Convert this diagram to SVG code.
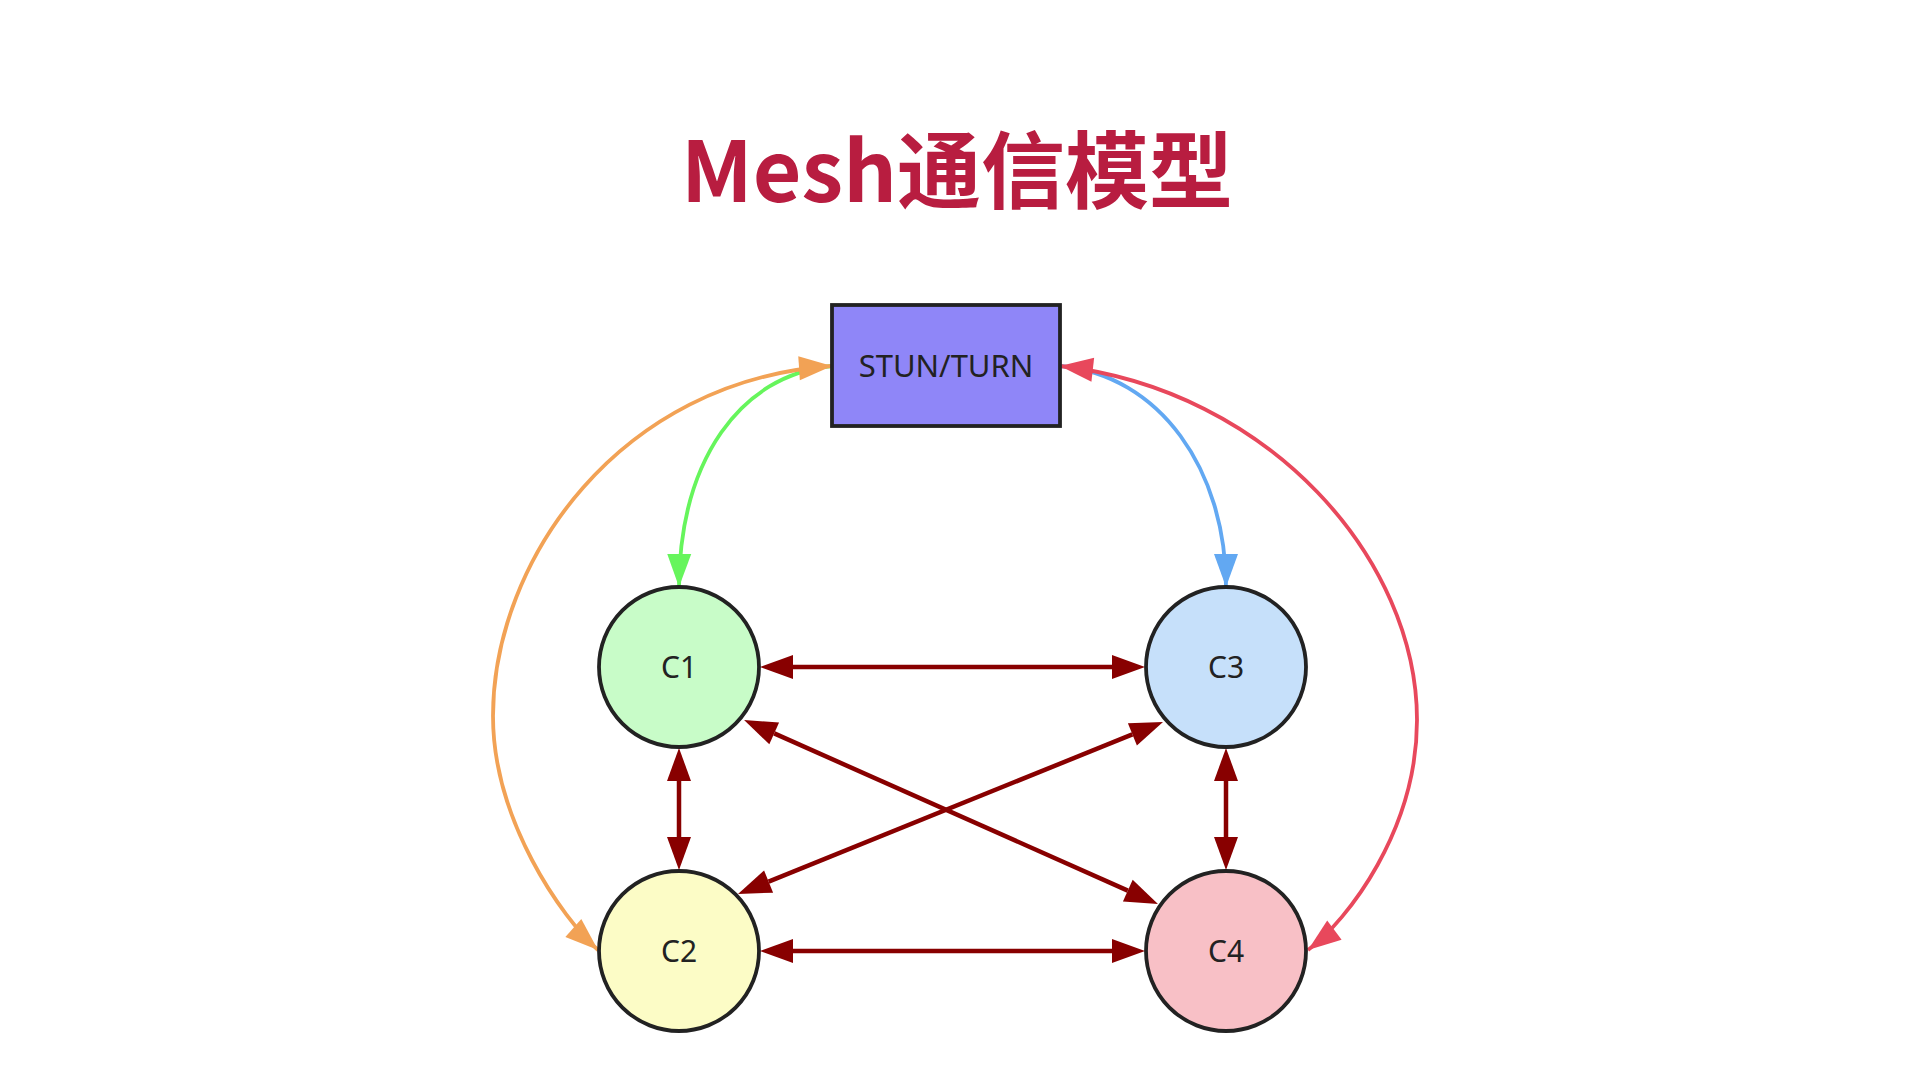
<svg xmlns="http://www.w3.org/2000/svg" width="1920" height="1080" viewBox="0 0 1920 1080">
<style>
.title{font-family:"Noto Sans CJK SC","Noto Sans",sans-serif;font-weight:700;font-size:84px;fill:#b81d40;text-anchor:middle}
.lbl{font-family:"Noto Sans","Open Sans",sans-serif;text-anchor:middle;fill:#222}
.node{stroke:#222;stroke-width:3.8}
.mesh{stroke:#880000;stroke-width:4.5;fill:none}
.cur{stroke-width:3.8;fill:none}
</style>
<defs>
<marker id="mR" markerUnits="userSpaceOnUse" markerWidth="34" markerHeight="26" refX="0" refY="12" orient="auto-start-reverse" overflow="visible"><path d="M0,0 L33,12 L0,24 z" fill="#880000"/></marker>
<marker id="mG" markerUnits="userSpaceOnUse" markerWidth="34" markerHeight="26" refX="33" refY="12" orient="auto-start-reverse" overflow="visible"><path d="M0,0 L33,12 L0,24 z" fill="#66f55c"/></marker>
<marker id="mB" markerUnits="userSpaceOnUse" markerWidth="34" markerHeight="26" refX="33" refY="12" orient="auto-start-reverse" overflow="visible"><path d="M0,0 L33,12 L0,24 z" fill="#62a8f2"/></marker>
<marker id="mO" markerUnits="userSpaceOnUse" markerWidth="34" markerHeight="26" refX="33" refY="12" orient="auto-start-reverse" overflow="visible"><path d="M0,0 L33,12 L0,24 z" fill="#f2a255"/></marker>
<marker id="mE" markerUnits="userSpaceOnUse" markerWidth="34" markerHeight="26" refX="33" refY="12" orient="auto-start-reverse" overflow="visible"><path d="M0,0 L33,12 L0,24 z" fill="#e8485c"/></marker>
</defs>
<rect width="1920" height="1080" fill="#ffffff"/>
<text class="title" x="957" y="202">Mesh通信模型</text>
<g id="connectors">
<path class="cur" stroke="#66f55c" d="M832,366 C740,375 680,460 679,587" marker-end="url(#mG)"/>
<path class="cur" stroke="#62a8f2" d="M1060,366 C1160,375 1226,470 1226,587" marker-end="url(#mB)"/>
<path class="cur" stroke="#f2a255" d="M832,366 C620,380 493,560 493,716 C493,820 562,918 598,950" marker-start="url(#mO)" marker-end="url(#mO)"/>
<path class="cur" stroke="#e8485c" d="M1060,366 C1270,390 1417,560 1417,720 C1417,830 1348,920 1308,950" marker-start="url(#mE)" marker-end="url(#mE)"/>
<line class="mesh" x1="793" y1="667" x2="1112" y2="667" marker-start="url(#mR)" marker-end="url(#mR)"/>
<line class="mesh" x1="793" y1="951" x2="1112" y2="951" marker-start="url(#mR)" marker-end="url(#mR)"/>
<line class="mesh" x1="679" y1="781" x2="679" y2="837" marker-start="url(#mR)" marker-end="url(#mR)"/>
<line class="mesh" x1="1226" y1="781" x2="1226" y2="837" marker-start="url(#mR)" marker-end="url(#mR)"/>
<line class="mesh" x1="774.2" y1="733.4" x2="1127.8" y2="890.6" marker-start="url(#mR)" marker-end="url(#mR)"/>
<line class="mesh" x1="1132.4" y1="734.4" x2="768.6" y2="881.6" marker-start="url(#mR)" marker-end="url(#mR)"/>
</g>
<g id="stun">
<rect class="node" x="832" y="305" width="228" height="121" fill="#8f86f8"/>
<text class="lbl" x="946" y="377" font-size="31" fill="#2a2a48">STUN/TURN</text>
</g>
<g id="c1">
<circle class="node" cx="679" cy="667" r="80" fill="#c8fcc8"/>
<text class="lbl" x="679" y="678" font-size="30">C1</text>
</g>
<g id="c3">
<circle class="node" cx="1226" cy="667" r="80" fill="#c6e0fa"/>
<text class="lbl" x="1226" y="678" font-size="30">C3</text>
</g>
<g id="c2">
<circle class="node" cx="679" cy="951" r="80" fill="#fcfcc6"/>
<text class="lbl" x="679" y="962" font-size="30">C2</text>
</g>
<g id="c4">
<circle class="node" cx="1226" cy="951" r="80" fill="#f8c0c6"/>
<text class="lbl" x="1226" y="962" font-size="30">C4</text>
</g>
</svg>
